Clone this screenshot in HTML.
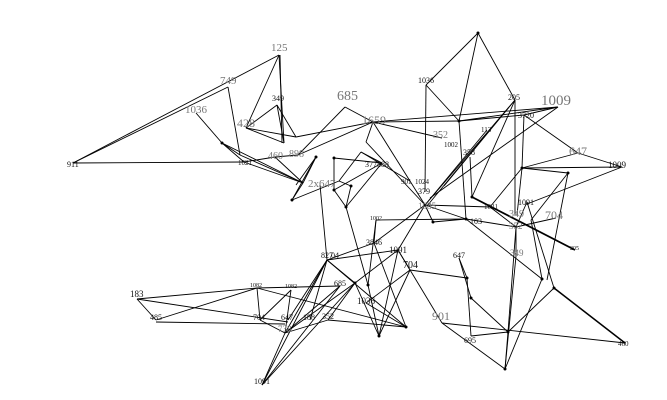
<!DOCTYPE html>
<html><head><meta charset="utf-8"><style>
html,body{margin:0;padding:0;background:#fff;width:667px;height:400px;overflow:hidden}
svg{display:block}
text{font-family:"Liberation Serif",serif;fill:#111}
.g{fill:#777}
</style></head><body>
<svg width="667" height="400" viewBox="0 0 667 400" xmlns="http://www.w3.org/2000/svg">
<g stroke="#000" stroke-width="0.9" fill="none">
<line x1="73" y1="163" x2="279" y2="55"/>
<line x1="73" y1="163" x2="228" y2="87"/>
<line x1="73" y1="163" x2="244" y2="162"/>
<line x1="196" y1="113" x2="222" y2="143"/>
<line x1="228" y1="87" x2="240" y2="155"/>
<line x1="279" y1="55" x2="246" y2="128"/>
<line x1="279" y1="55" x2="284" y2="143"/>
<line x1="280" y1="55" x2="282" y2="143"/>
<line x1="277" y1="105" x2="246" y2="128"/>
<line x1="277" y1="105" x2="284" y2="143"/>
<line x1="277" y1="105" x2="296" y2="137"/>
<line x1="246" y1="128" x2="284" y2="143"/>
<line x1="246" y1="128" x2="296" y2="137"/>
<line x1="296" y1="137" x2="373" y2="122"/>
<line x1="222" y1="143" x2="240" y2="155"/>
<line x1="222" y1="143" x2="244" y2="162"/>
<line x1="222" y1="143" x2="303" y2="183"/>
<line x1="240" y1="155" x2="303" y2="183"/>
<line x1="244" y1="162" x2="303" y2="183"/>
<line x1="244" y1="162" x2="275" y2="157"/>
<line x1="275" y1="157" x2="303" y2="183"/>
<line x1="275" y1="157" x2="298" y2="155"/>
<line x1="298" y1="155" x2="373" y2="122"/>
<line x1="345" y1="107" x2="298" y2="155"/>
<line x1="345" y1="107" x2="373" y2="122"/>
<line x1="373" y1="122" x2="425" y2="205"/>
<line x1="373" y1="122" x2="459" y2="121"/>
<line x1="373" y1="122" x2="558" y2="107"/>
<line x1="373" y1="122" x2="442" y2="138"/>
<line x1="316" y1="157" x2="292" y2="200"/>
<line x1="316" y1="157" x2="303" y2="183"/>
<line x1="316" y1="157" x2="296" y2="185"/>
<line x1="292" y1="200" x2="303" y2="183"/>
<line x1="292" y1="200" x2="339" y2="181"/>
<line x1="334" y1="158" x2="334" y2="190"/>
<line x1="334" y1="190" x2="346" y2="207"/>
<line x1="346" y1="207" x2="351" y2="186"/>
<line x1="351" y1="186" x2="339" y2="181"/>
<line x1="334" y1="158" x2="382" y2="163"/>
<line x1="366" y1="142" x2="373" y2="122"/>
<line x1="366" y1="142" x2="425" y2="205"/>
<line x1="361" y1="152" x2="382" y2="163"/>
<line x1="361" y1="152" x2="339" y2="181"/>
<line x1="382" y1="163" x2="334" y2="190"/>
<line x1="382" y1="163" x2="346" y2="207"/>
<line x1="361" y1="152" x2="410" y2="181"/>
<line x1="320" y1="185" x2="327" y2="260"/>
<line x1="346" y1="207" x2="368" y2="285"/>
<line x1="478" y1="33" x2="426" y2="85"/>
<line x1="478" y1="33" x2="515" y2="100"/>
<line x1="478" y1="33" x2="459" y2="121"/>
<line x1="459" y1="121" x2="466" y2="219"/>
<line x1="426" y1="85" x2="459" y2="121"/>
<line x1="426" y1="85" x2="425" y2="192"/>
<line x1="558" y1="107" x2="459" y2="121"/>
<line x1="524" y1="115" x2="459" y2="121"/>
<line x1="515" y1="100" x2="472" y2="197"/>
<line x1="515" y1="100" x2="515" y2="215"/>
<line x1="515" y1="100" x2="425" y2="205"/>
<line x1="515" y1="100" x2="444" y2="186"/>
<line x1="558" y1="107" x2="524" y2="115"/>
<line x1="558" y1="107" x2="430" y2="198"/>
<line x1="524" y1="115" x2="578" y2="153"/>
<line x1="524" y1="115" x2="522" y2="168"/>
<line x1="487" y1="130" x2="425" y2="205"/>
<line x1="489" y1="131" x2="427" y2="206"/>
<line x1="470" y1="157" x2="472" y2="197"/>
<line x1="522" y1="168" x2="622" y2="167"/>
<line x1="522" y1="168" x2="568" y2="173"/>
<line x1="522" y1="168" x2="490" y2="207"/>
<line x1="522" y1="168" x2="517" y2="215"/>
<line x1="522" y1="168" x2="578" y2="153"/>
<line x1="578" y1="153" x2="622" y2="167"/>
<line x1="568" y1="173" x2="531" y2="220"/>
<line x1="568" y1="173" x2="547" y2="280"/>
<line x1="622" y1="167" x2="527" y2="204"/>
<line x1="472" y1="197" x2="575" y2="250" stroke-width="1.8"/>
<line x1="425" y1="205" x2="490" y2="207"/>
<line x1="425" y1="205" x2="466" y2="219"/>
<line x1="433" y1="222" x2="466" y2="219"/>
<line x1="425" y1="205" x2="433" y2="222"/>
<line x1="490" y1="207" x2="516" y2="227"/>
<line x1="527" y1="202" x2="516" y2="227"/>
<line x1="556" y1="218" x2="516" y2="227"/>
<line x1="466" y1="219" x2="516" y2="227"/>
<line x1="516" y1="227" x2="516" y2="256"/>
<line x1="516" y1="227" x2="508" y2="332"/>
<line x1="527" y1="202" x2="554" y2="288"/>
<line x1="466" y1="219" x2="542" y2="279"/>
<line x1="376" y1="220" x2="466" y2="219"/>
<line x1="376" y1="220" x2="368" y2="285"/>
<line x1="376" y1="220" x2="374" y2="243"/>
<line x1="374" y1="243" x2="425" y2="205"/>
<line x1="374" y1="243" x2="327" y2="260"/>
<line x1="374" y1="243" x2="406" y2="327"/>
<line x1="398" y1="250" x2="425" y2="205"/>
<line x1="398" y1="250" x2="355" y2="283"/>
<line x1="398" y1="250" x2="379" y2="336"/>
<line x1="398" y1="250" x2="410" y2="270"/>
<line x1="398" y1="250" x2="442" y2="323"/>
<line x1="327" y1="260" x2="398" y2="250"/>
<line x1="410" y1="270" x2="467" y2="278"/>
<line x1="410" y1="270" x2="379" y2="336"/>
<line x1="410" y1="270" x2="366" y2="303"/>
<line x1="459" y1="258" x2="467" y2="278"/>
<line x1="459" y1="258" x2="471" y2="298"/>
<line x1="467" y1="278" x2="471" y2="336"/>
<line x1="471" y1="298" x2="508" y2="332"/>
<line x1="442" y1="323" x2="625" y2="343"/>
<line x1="442" y1="323" x2="505" y2="369"/>
<line x1="471" y1="336" x2="508" y2="332"/>
<line x1="508" y1="332" x2="505" y2="369"/>
<line x1="508" y1="332" x2="554" y2="288"/>
<line x1="505" y1="369" x2="542" y2="279"/>
<line x1="554" y1="288" x2="625" y2="343" stroke-width="1.5"/>
<line x1="516" y1="256" x2="505" y2="369"/>
<line x1="531" y1="220" x2="542" y2="279"/>
<line x1="137" y1="299" x2="257" y2="288"/>
<line x1="137" y1="299" x2="156" y2="320"/>
<line x1="137" y1="299" x2="288" y2="322"/>
<line x1="156" y1="320" x2="257" y2="288"/>
<line x1="156" y1="322" x2="285" y2="324"/>
<line x1="257" y1="288" x2="260" y2="320"/>
<line x1="257" y1="288" x2="340" y2="286"/>
<line x1="257" y1="288" x2="406" y2="327"/>
<line x1="291" y1="290" x2="285" y2="333"/>
<line x1="291" y1="290" x2="260" y2="320"/>
<line x1="260" y1="320" x2="285" y2="333"/>
<line x1="327" y1="260" x2="285" y2="333"/>
<line x1="327" y1="260" x2="288" y2="320"/>
<line x1="327" y1="260" x2="310" y2="320"/>
<line x1="327" y1="260" x2="355" y2="283"/>
<line x1="327" y1="260" x2="406" y2="327"/>
<line x1="327" y1="260" x2="262" y2="385"/>
<line x1="340" y1="286" x2="262" y2="385"/>
<line x1="355" y1="283" x2="262" y2="385"/>
<line x1="340" y1="286" x2="285" y2="333"/>
<line x1="355" y1="283" x2="285" y2="333"/>
<line x1="328" y1="320" x2="355" y2="283"/>
<line x1="285" y1="333" x2="262" y2="385"/>
<line x1="285" y1="333" x2="328" y2="320"/>
<line x1="328" y1="320" x2="406" y2="327"/>
<line x1="366" y1="303" x2="406" y2="327"/>
<line x1="368" y1="285" x2="379" y2="336"/>
<line x1="355" y1="283" x2="379" y2="336"/>
</g>
<g font-size="8">
<text x="67" y="167">911</text>
<text class="g" x="185" y="113" font-size="11">1036</text>
<text class="g" x="220" y="84" font-size="11">749</text>
<text class="g" x="271" y="51" font-size="11">125</text>
<text x="272" y="101">349</text>
<text class="g" x="237" y="127" font-size="12">428</text>
<text class="g" x="268" y="159" font-size="10">460</text>
<text class="g" x="289" y="157" font-size="10">898</text>
<text class="g" x="337" y="100" font-size="14">685</text>
<text class="g" x="362" y="124" font-size="12">1659</text>
<text class="g" x="308" y="187" font-size="11">2x647</text>
<text x="238" y="165" font-size="7">1021</text>
<text x="365" y="167" font-size="8">377888</text>
<text x="418" y="83">1036</text>
<text class="g" x="541" y="105" font-size="15">1009</text>
<text x="508" y="100">205</text>
<text x="518" y="118">3720</text>
<text class="g" x="433" y="138" font-size="10">352</text>
<text x="444" y="147" font-size="7">1002</text>
<text x="481" y="132" font-size="7">113</text>
<text x="463" y="155">358</text>
<text class="g" x="569" y="155" font-size="12">647</text>
<text x="608" y="168" font-size="9">1009</text>
<text x="401" y="184" font-size="7">901</text>
<text x="415" y="184" font-size="7">1024</text>
<text x="418" y="194">379</text>
<text class="g" x="418" y="209" font-size="9">1085</text>
<text x="484" y="209" font-size="7">1021</text>
<text x="518" y="205" font-size="8">1091</text>
<text class="g" x="509" y="217" font-size="10">349</text>
<text class="g" x="509" y="229" font-size="9">352</text>
<text class="g" x="545" y="219" font-size="12">704</text>
<text x="470" y="224">103</text>
<text x="570" y="250" font-size="6">205</text>
<text class="g" x="510" y="256" font-size="9">349</text>
<text x="370" y="220" font-size="6">1002</text>
<text x="366" y="245">3846</text>
<text x="389" y="253" font-size="9">1091</text>
<text x="403" y="268" font-size="10">704</text>
<text x="453" y="258" font-size="8">647</text>
<text class="g" x="432" y="320" font-size="12">901</text>
<text x="464" y="343">695</text>
<text x="618" y="346" font-size="7">460</text>
<text x="130" y="297" font-size="9">183</text>
<text x="150" y="320">485</text>
<text x="250" y="287" font-size="6">1082</text>
<text x="285" y="288" font-size="6">1082</text>
<text x="253" y="320">704</text>
<text x="281" y="320">647</text>
<text class="g" x="278" y="332" font-size="9">738</text>
<text x="303" y="320">188</text>
<text x="322" y="319">352</text>
<text x="321" y="258">827</text><text x="331" y="258">04</text>
<text x="334" y="286">685</text>
<text x="357" y="304" font-size="9">1036</text>
<text x="254" y="384">1091</text>
</g>
<g fill="#000">
<circle cx="478" cy="33" r="1.5"/><circle cx="459" cy="121" r="1.5"/><circle cx="222" cy="143" r="1.5"/>
<circle cx="292" cy="200" r="1.5"/><circle cx="346" cy="207" r="1.5"/><circle cx="522" cy="168" r="1.5"/>
<circle cx="568" cy="173" r="1.5"/><circle cx="472" cy="197" r="1.5"/><circle cx="433" cy="222" r="1.5"/>
<circle cx="466" cy="219" r="1.5"/><circle cx="467" cy="278" r="1.5"/><circle cx="471" cy="298" r="1.5"/>
<circle cx="508" cy="332" r="1.5"/><circle cx="505" cy="369" r="1.5"/><circle cx="542" cy="279" r="1.5"/>
<circle cx="554" cy="288" r="1.5"/><circle cx="379" cy="336" r="1.5"/><circle cx="406" cy="327" r="1.5"/>
<circle cx="355" cy="283" r="1.5"/><circle cx="368" cy="285" r="1.5"/><circle cx="316" cy="157" r="1.5"/>
<circle cx="334" cy="158" r="1.5"/><circle cx="351" cy="186" r="1.5"/><circle cx="334" cy="190" r="1.5"/>
</g>
</svg>
</body></html>
